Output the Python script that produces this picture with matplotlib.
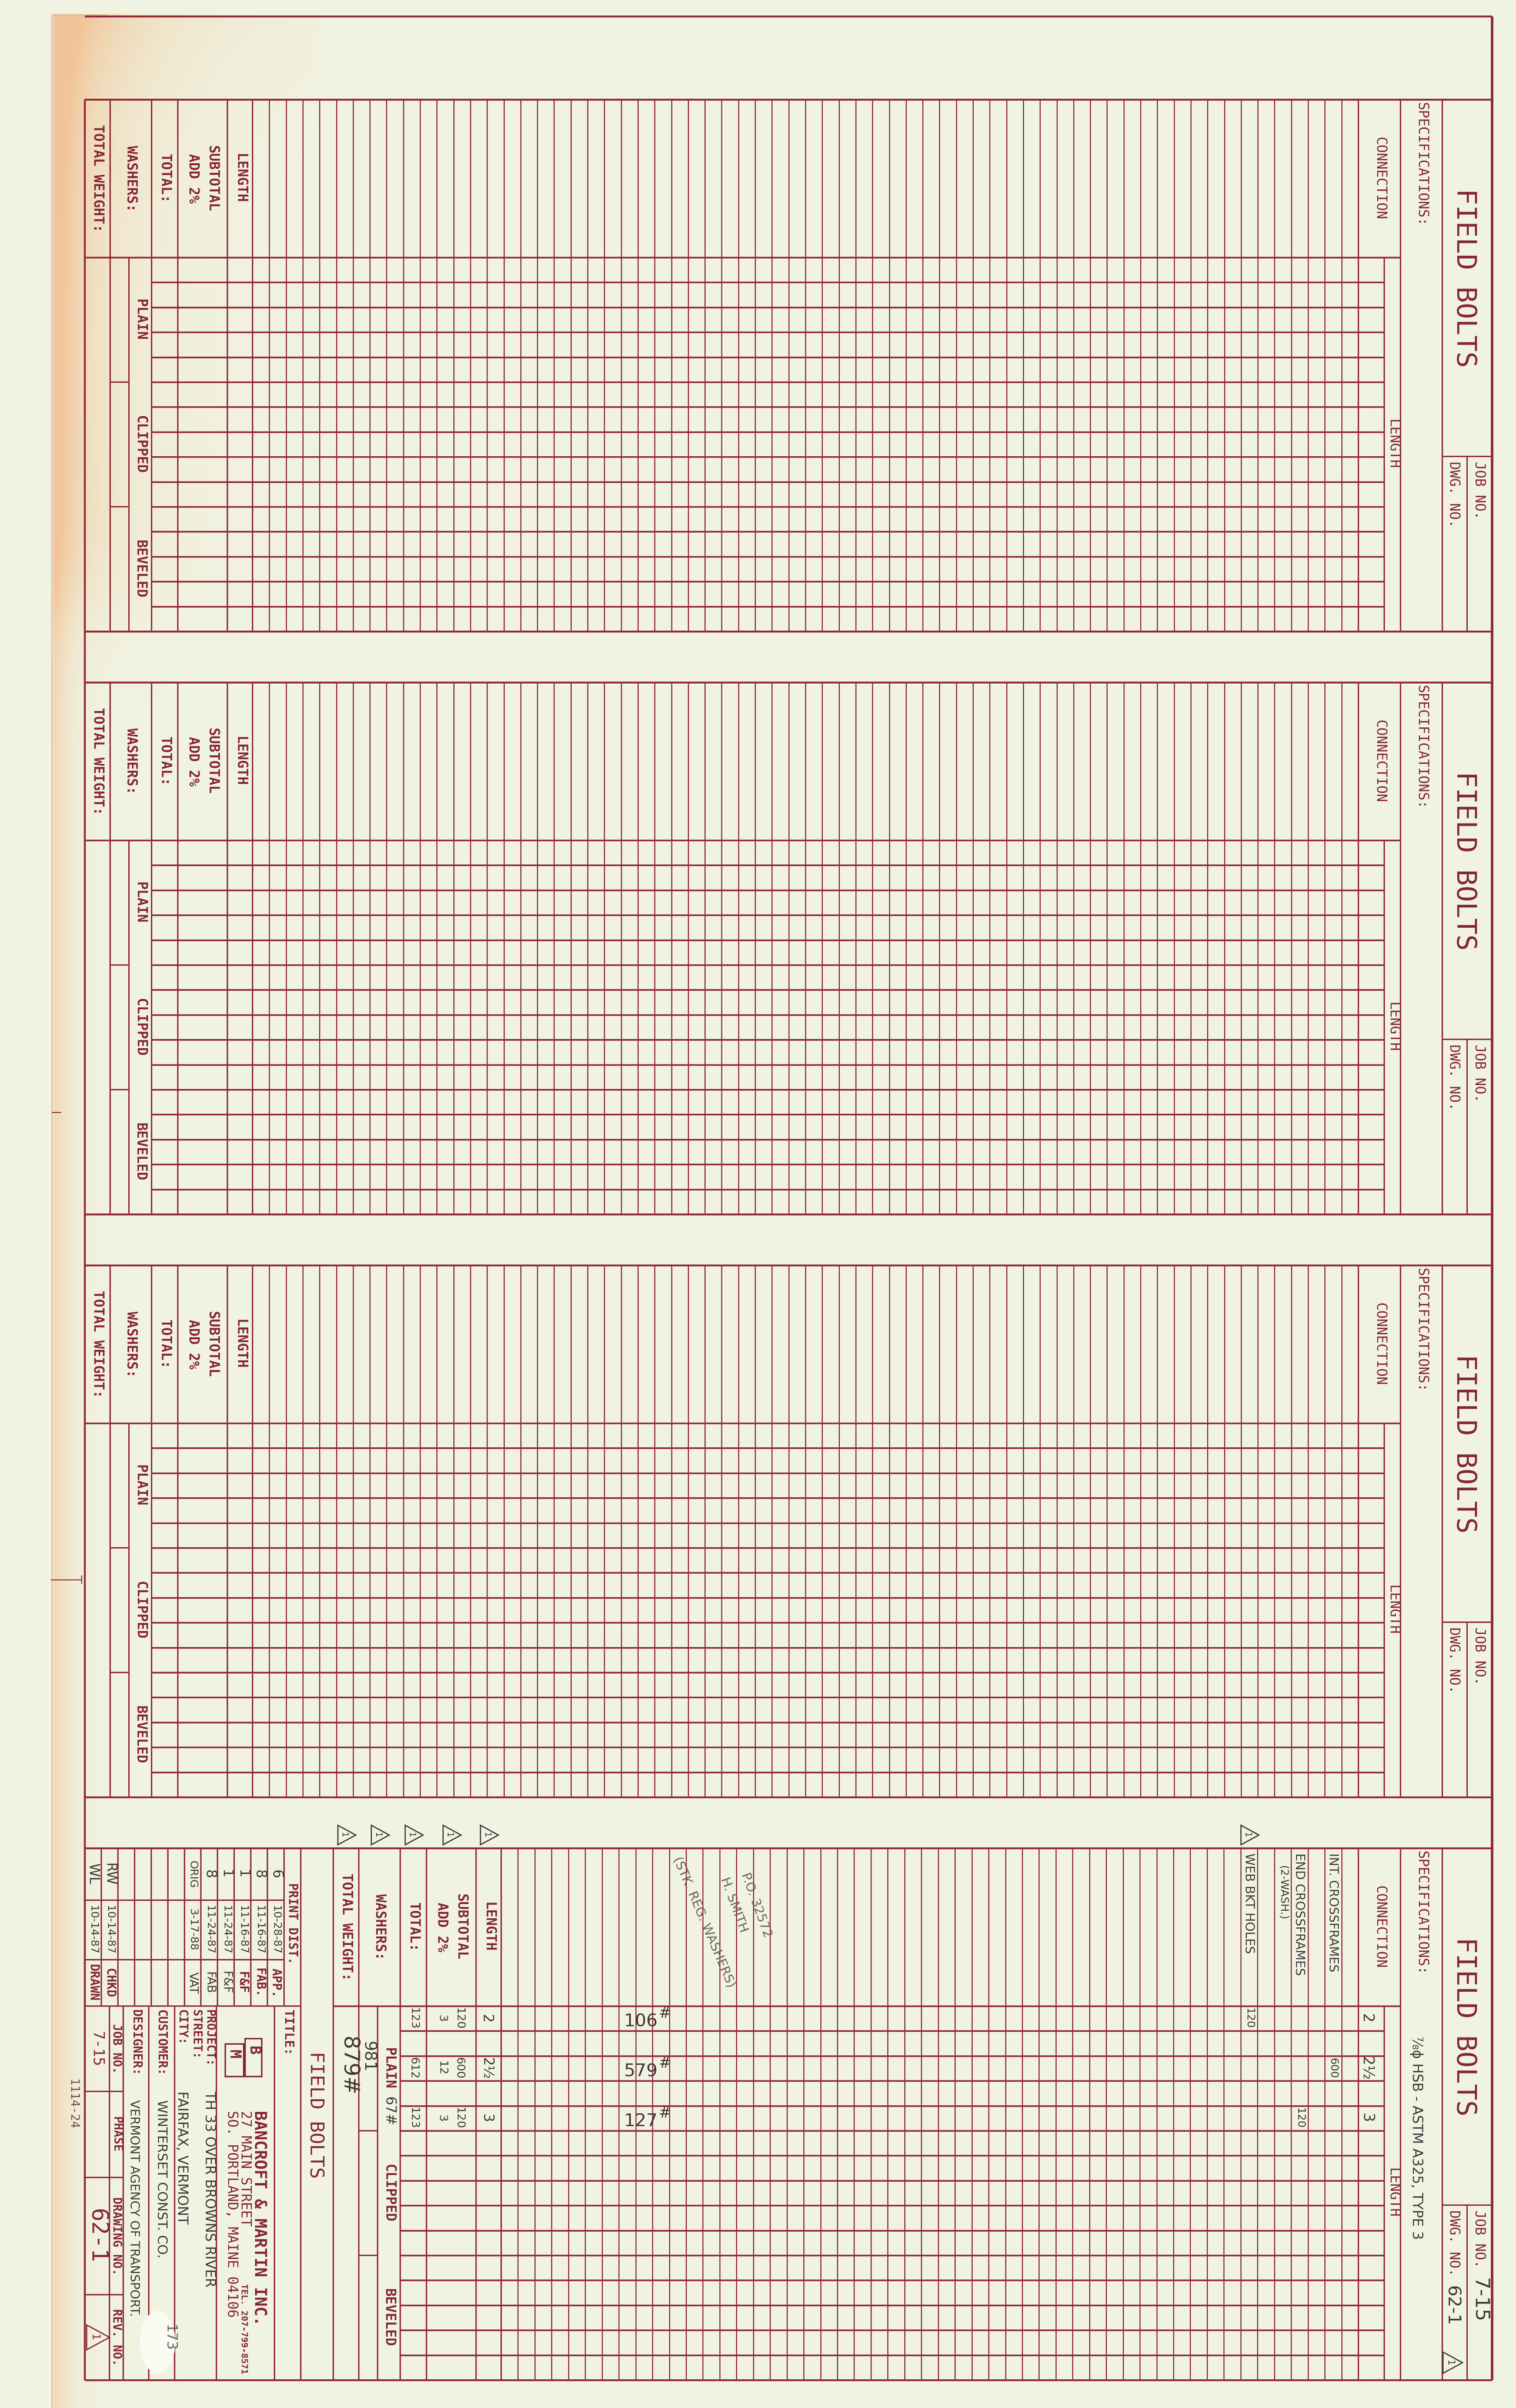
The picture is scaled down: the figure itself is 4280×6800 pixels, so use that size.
import numpy as np
import matplotlib
matplotlib.use("Agg")
import matplotlib.pyplot as plt
from matplotlib.patches import Polygon, Ellipse

# ---------------- form content (data) ----------------
sheet_title = "FIELD BOLTS"
spec_label = "SPECIFICATIONS:"
connection_label = "CONNECTION"
length_label = "LENGTH"
job_label = "JOB NO."
dwg_label = "DWG. NO."
total_col_labels = ["TOTAL WEIGHT:", "WASHERS:", "TOTAL:", "SUBTOTAL", "LENGTH"]
add_label = "ADD 2%"
washer_types = ["PLAIN", "CLIPPED", "BEVELED"]
rows_per_sheet = 15
connection_cols_per_sheet = [66, 66, 66, 51]

# filled-in entries on the last sheet
spec_entry = "⅞ϕ HSB - ASTM A325, TYPE 3"
job_entry = "7-15"
dwg_entry = "62-1"
connection_names = ["WEB BKT HOLES", "END CROSSFRAMES", "INT. CROSSFRAMES"]
connection_cols = [44, 47, 49]
connection_quantities = [120, 120, 600]
connection_qty_rows = [0, 4, 2]
end_note = "(2-WASH.)"
bolt_lengths = ["2", "2½", "3"]
length_rows = [0, 2, 4]
subtotals = [120, 600, 120]
add_two_pct = [3, 12, 3]
totals = [123, 612, 123]
weights = ["106", "579", "127"]
washers_count = "981"
washers_plain_wt = "67#"
total_weight = "879#"
po_notes = ["P.O. 32572", "H. SMITH", "(STK. REG. WASHERS)"]

# title block
print_dist_label = "PRINT DIST."
print_qty = ["6", "8", "1", "1", "8", "ORIG", "", "", "", "", "RW", "WL"]
print_dates = ["10-28-87", "11-16-87", "11-16-87", "11-24-87", "11-24-87", "3-17-88",
               "", "", "", "", "10-14-87", "10-14-87"]
print_to = ["APP.", "FAB.", "F&F", "F&F", "FAB", "VAT", "", "", "", "", "CHKD", "DRAWN"]
print_to_printed = [True, True, True, False, False, False, False, False, False, False, True, True]
company_lines = ["BANCROFT & MARTIN INC.", "27 MAIN STREET", "SO. PORTLAND, MAINE 04106"]
company_tel = "TEL. 207-799-8571"
project_fields = ["PROJECT:", "STREET:", "CITY:"]
project_values = ["TH 33 OVER BROWNS RIVER", "", "FAIRFAX, VERMONT"]
customer_label = "CUSTOMER:"
customer_value = "WINTERSET CONST. CO."
designer_label = "DESIGNER:"
designer_value = "VERMONT AGENCY OF TRANSPORT."
bottom_labels = ["JOB NO.", "PHASE", "DRAWING NO.", "REV. NO."]
bottom_values = ["7-15", "", "62-1", ""]
title_label = "TITLE:"
sheet_number_note = "1114-24"
sticker_note = "173"

# ---------------- style / layout ----------------
BG = "#F0F3E1"
RED = "#922738"
INK = "#852536"
PEN = "#3F3739"
PEN_LIGHT = "#6E6260"
MONO = "DejaVu Sans Mono"
HAND = "DejaVu Sans"

LW_BORDER = 3.8
LW_ROW = 3.3
LW_MAIN_V = 2.8
LW_COL = 2.2
LW_RIGHT = 5.2

X_LEFT, X_RIGHT = 239, 4212
X_JOB, X_FB, X_SPEC = 4142, 4072, 3954
X_LENLBL, X_LENVAL = 3908, 3835
PAGE_TOP = 46
SHEET_TOP, SHEET_PITCH = 281, 1646
HEADER_H, ROW_H = 446, 70.4
JOB_OFF = 1008
TOTAL_W = [72, 117, 74, 140, 71]
WASH_SUB = 53
TOTALS_X = [239, 239, 239, 941]
TB_RIGHT = 849

fig = plt.figure(figsize=(42.8, 68), dpi=100)
fig.patch.set_facecolor(BG)
ax = fig.add_axes([0, 0, 1, 1])
ax.set_facecolor(BG)

# paper stain (decoration)
sx = np.linspace(140, 900, 77)
sy = np.linspace(40, 6800, 240)
XX, YY = np.meshgrid(sx, sy)
edge = np.exp(-(XX - 148) / 45.0)
band = np.exp(-(XX - 148) / 160.0) / (1 + np.exp((YY - 1680) / 80.0))
corner = np.exp(-(XX - 148) / 330.0) * np.exp(-(YY - 42) / 240.0)
alpha = np.clip(0.5 * edge + 0.6 * band + 0.5 * corner, 0, 0.8)
alpha[XX < 146] = 0
rgba = np.zeros(XX.shape + (4,))
rgba[..., 0], rgba[..., 1], rgba[..., 2] = 0.95, 0.73, 0.53
rgba[..., 3] = alpha
ax.imshow(rgba, extent=(140, 900, 6800, 40), interpolation="bilinear", aspect="auto", zorder=0.5)

ax.set_xlim(0, 4280)
ax.set_ylim(6800, 0)
ax.axis("off")


def hl(y, x0, x1, lw, c=RED):
    ax.hlines(y, x0, x1, colors=c, linewidth=lw, zorder=2)


def vl(x, y0, y1, lw, c=RED):
    ax.vlines(x, y0, y1, colors=c, linewidth=lw, zorder=2)


def vt(x, y, s, size, ha="center", family=MONO, color=INK, weight="normal", rot=-90, va="center"):
    ax.text(x, y, s, rotation=rot, rotation_mode="anchor", ha=ha, va=va, fontsize=size,
            family=family, color=color, fontweight=weight, zorder=3)


def rev_tri(x, y, s, color=PEN):
    pts = [(x - 0.42 * s, y - 0.5 * s), (x - 0.42 * s, y + 0.5 * s), (x + 0.5 * s, y)]
    ax.add_patch(Polygon(pts, closed=True, fill=False, edgecolor=color, linewidth=2.4, zorder=3))
    vt(x - 0.12 * s, y, "1", s * 0.32, family=HAND, color=color)


# paper edge and page frame
vl(146, 42, 6800, 2.0, "#E4AE98")
hl(42, 146, 300, 2.0, "#E4AE98")
hl(PAGE_TOP, X_LEFT, X_RIGHT, LW_BORDER)
last_bot = SHEET_TOP + 3 * SHEET_PITCH + HEADER_H + rows_per_sheet * ROW_H
vl(X_RIGHT, PAGE_TOP, last_bot, LW_RIGHT)
vl(X_LEFT, SHEET_TOP, last_bot, LW_BORDER)
# small pencil marks on the paper edge
hl(3141, 146, 172, 2.0)
hl(4461, 143, 230, 2.0)
vl(230, 4448, 4472, 2.0)

sheets = []
for p in range(4):
    top = SHEET_TOP + p * SHEET_PITCH
    hdr = top + HEADER_H
    bot = hdr + rows_per_sheet * ROW_H
    x0 = TOTALS_X[p]
    edges = x0 + np.concatenate([[0], np.cumsum(TOTAL_W)])
    ncol = connection_cols_per_sheet[p]
    cstart = edges[-1]
    cw = (X_LENVAL - cstart) / ncol

    hl(top, X_LEFT, X_RIGHT, LW_BORDER)
    hl(bot, X_LEFT, X_RIGHT, LW_BORDER)
    hl(hdr, x0, X_SPEC, LW_ROW)
    for i in range(1, rows_per_sheet):
        hl(hdr + i * ROW_H, edges[2], X_LENLBL, LW_ROW)
    for e in edges:
        vl(e, top, bot, LW_MAIN_V)
    vl(edges[1] + WASH_SUB, hdr, bot, LW_MAIN_V)
    for k in (5, 10):
        hl(hdr + k * ROW_H, edges[1], edges[1] + WASH_SUB, LW_MAIN_V)
    for k in range(1, ncol):
        vl(cstart + k * cw, top, bot, LW_COL)
    vl(X_LENVAL, top, bot, LW_MAIN_V)
    vl(X_LENLBL, hdr, bot, LW_MAIN_V)
    vl(X_SPEC, top, bot, LW_MAIN_V)
    vl(X_FB, top, bot, LW_MAIN_V)
    hl(top + JOB_OFF, X_FB, X_RIGHT, LW_MAIN_V)
    vl(X_JOB, top + JOB_OFF, bot, LW_MAIN_V)

    # printed labels, right header
    vt((X_FB + X_RIGHT) / 2 - 8, top + JOB_OFF / 2, sheet_title, 55)
    vt((X_SPEC + X_FB) / 2, top + 8, spec_label, 28, ha="left")
    vt((X_LENVAL + X_SPEC) / 2, top + HEADER_H / 2, connection_label, 28)
    vt((X_LENLBL + X_SPEC) / 2, (hdr + bot) / 2, length_label, 28)
    vt((X_JOB + X_RIGHT) / 2 - 2, top + JOB_OFF + 14, job_label, 28, ha="left")
    vt((X_FB + X_JOB) / 2 - 4, top + JOB_OFF + 14, dwg_label, 28, ha="left")

    # printed labels, totals block
    hc = top + HEADER_H / 2
    vt((edges[0] + edges[1]) / 2, hc, total_col_labels[0], 28, weight="bold")
    vt((edges[1] + edges[2]) / 2, hc, total_col_labels[1], 28, weight="bold")
    vt((edges[2] + edges[3]) / 2, hc, total_col_labels[2], 28, weight="bold")
    vt(edges[3] + 0.69 * TOTAL_W[3], hc, total_col_labels[3], 28, weight="bold")
    vt(edges[3] + 0.31 * TOTAL_W[3], hc, add_label, 28, weight="bold")
    vt((edges[4] + edges[5]) / 2, hc, total_col_labels[4], 28, weight="bold")
    wx = (edges[1] + WASH_SUB + edges[2]) / 2
    for j, wt in enumerate(washer_types):
        vt(wx, hdr + (5 * j + 2.5) * ROW_H, wt, 28, weight="bold")

    sheets.append(dict(top=top, hdr=hdr, bot=bot, edges=edges, cstart=cstart, cw=cw))

# ---------------- last sheet: title block ----------------
s4 = sheets[3]
top, hdr, bot, edges, cstart, cw = (s4["top"], s4["hdr"], s4["bot"], s4["edges"],
                                     s4["cstart"], s4["cw"])
vl(TB_RIGHT, top, bot, LW_MAIN_V)
tb_w = (TB_RIGHT - X_LEFT) / 13
y_qty, y_date = top + 147, top + 315
hl(hdr, X_LEFT, TB_RIGHT, LW_MAIN_V)
for k in range(1, 13):
    vl(X_LEFT + k * tb_w, top, hdr, LW_MAIN_V)
hl(y_qty, X_LEFT, TB_RIGHT - tb_w, LW_MAIN_V)
hl(y_date, X_LEFT, TB_RIGHT - tb_w, LW_MAIN_V)
vt(TB_RIGHT - tb_w / 2, top + HEADER_H / 2 - 10, print_dist_label, 25, weight="bold")
for j in range(12):
    xc = TB_RIGHT - (j + 1.5) * tb_w
    if print_qty[j]:
        vt(xc, (top + y_qty) / 2, print_qty[j], 28 if len(print_qty[j]) < 3 else 22,
           family=HAND, color=PEN)
    if print_dates[j]:
        vt(xc, (y_qty + y_date) / 2, print_dates[j], 22, family=HAND, color=PEN)
    if print_to[j]:
        if print_to_printed[j]:
            vt(xc, (y_date + hdr) / 2, print_to[j], 25, weight="bold")
        else:
            vt(xc, (y_date + hdr) / 2, print_to[j], 24, family=HAND, color=PEN)

# lower title block
tb_x = [309, 348, 420, 493, 611, 775]
for xv in tb_x:
    vl(xv, hdr, bot, LW_MAIN_V)
band_y = [5906, 6149, 6480]
for yv in band_y:
    hl(yv, X_LEFT, tb_x[1], LW_MAIN_V)
band_edges = [hdr] + band_y + [bot]
for j in range(4):
    yc = (band_edges[j] + band_edges[j + 1]) / 2
    vt((tb_x[0] + tb_x[1]) / 2, yc, bottom_labels[j], 24, weight="bold")
vt((X_LEFT + tb_x[0]) / 2, (band_edges[0] + band_edges[1]) / 2, bottom_values[0], 30)
vt((X_LEFT + tb_x[0]) / 2, (band_edges[2] + band_edges[3]) / 2, bottom_values[2], 46)
rev_tri((X_LEFT + tb_x[0]) / 2, (band_edges[3] + band_edges[4]) / 2, 70, color=INK)

vt((tb_x[5] + TB_RIGHT) / 2, hdr + 10, title_label, 26, ha="left", weight="bold")
vt((TB_RIGHT + edges[0]) / 2 - 4, 5972, sheet_title, 39)

# logo
ax.add_patch(plt.Rectangle((692, 5757), 47, 107, fill=False, edgecolor=INK, linewidth=3, zorder=3))
ax.add_patch(plt.Rectangle((636, 5772), 52, 92, fill=False, edgecolor=INK, linewidth=3, zorder=3))
vt(716, 5790, "B", 30, weight="bold")
vt(660, 5800, "M", 30, weight="bold")
vt(731, 5960, company_lines[0], 33, ha="left", weight="bold")
vt(692, 5960, company_lines[1], 28, ha="left")
vt(654, 5960, company_lines[2], 28, ha="left")
vt(688, 6449, company_tel, 18, ha="left", weight="bold")

proj_x = [591, 553, 513]
for j in range(3):
    vt(proj_x[j], hdr + 10, project_fields[j], 24, ha="left", weight="bold")
    if project_values[j]:
        vt(proj_x[j], 5905, project_values[j], 28, ha="left", family=HAND, color=PEN)
vt(455, hdr + 10, customer_label, 25, ha="left", weight="bold")
vt(455, 5930, customer_value, 27, ha="left", family=HAND, color=PEN)
vt(384, hdr + 10, designer_label, 25, ha="left", weight="bold")
vt(379, 5930, designer_value, 25, ha="left", family=HAND, color=PEN)

ax.add_patch(Ellipse((445, 6614), 100, 176, facecolor="#FAFBF3", edgecolor="none", zorder=3.5))
ax.text(478, 6602, sticker_note, rotation=-90, rotation_mode="anchor", ha="center", va="center",
        fontsize=28, family=HAND, color=PEN_LIGHT, zorder=4)
vt(205, 5942, sheet_number_note, 24, color="#7A4A42")

# ---------------- last sheet: handwritten entries ----------------
def row_c(r):
    return hdr + (r + 0.5) * ROW_H


vt((X_SPEC + X_FB) / 2 - 14, top + 531, spec_entry, 28, ha="left", family=HAND, color=PEN)
vt((X_JOB + X_RIGHT) / 2, top + 1214, job_entry, 40, ha="left", family=HAND, color=PEN)
vt((X_FB + X_JOB) / 2 - 8, top + 1236, dwg_entry, 36, ha="left", family=HAND, color=PEN)
rev_tri((X_FB + X_JOB) / 2 - 8, top + 1453, 60)

for name, c, q, qr in zip(connection_names, connection_cols, connection_quantities, connection_qty_rows):
    xc = cstart + (c + 0.5) * cw
    vt(xc, top + 14, name, 25, ha="left", family=HAND, color=PEN)
    vt(xc, row_c(qr), str(q), 22, family=HAND, color=PEN)
vt(cstart + (connection_cols[1] - 0.5) * cw, top + 49, end_note, 22, ha="left", family=HAND, color=PEN)
rev_tri(cstart + (connection_cols[0] + 0.5) * cw, top - 37, 55)

len_x = X_LENVAL + 0.32 * (X_LENLBL - X_LENVAL)
for L, r in zip(bolt_lengths, length_rows):
    vt(len_x, row_c(r), L, 30, family=HAND, color=PEN)
    vt((edges[4] + edges[5]) / 2 - 6, row_c(r), L, 28, family=HAND, color=PEN)
for st, a2, tt, r in zip(subtotals, add_two_pct, totals, length_rows):
    vt(edges[3] + 0.66 * TOTAL_W[3], row_c(r), str(st), 23, family=HAND, color=PEN)
    vt(edges[3] + 0.31 * TOTAL_W[3], row_c(r), str(a2), 23, family=HAND, color=PEN)
    vt((edges[2] + edges[3]) / 2, row_c(r), str(tt), 23, family=HAND, color=PEN)
for w, r in zip(weights, length_rows):
    wx0 = cstart + 7.3 * cw
    ax.text(wx0, row_c(r) + 8, w, ha="left", va="center", fontsize=36, family=HAND,
            color=PEN, zorder=3)
    ax.text(wx0 + 98, row_c(r) - 14, "#", ha="left", va="center", fontsize=30, family=HAND,
            color=PEN, zorder=3)

vt(edges[0] + 0.6 * TOTAL_W[0], top + 532, total_weight, 44, ha="left", family=HAND, color=PEN)
vt(edges[1] + WASH_SUB / 2, top + 545, washers_count, 33, ha="left", family=HAND, color=PEN)
vt((edges[1] + WASH_SUB + edges[2]) / 2, top + 702, washers_plain_wt, 28, ha="left",
   family=HAND, color=PEN)
for i in range(5):
    rev_tri((edges[i] + edges[i + 1]) / 2, top - 37, 55)

po_centers_x = [2136, 2073, 1987]
po_centers_y = [5380, 5379, 5428]
po_rot = [-70, -70, -67]
for note, px, py, pr in zip(po_notes, po_centers_x, po_centers_y, po_rot):
    ax.text(px, py, note, rotation=pr, rotation_mode="anchor", ha="center", va="center",
            fontsize=26, family=HAND, color=PEN_LIGHT, zorder=3)

fig.savefig("out.png", dpi=100, facecolor=BG)
